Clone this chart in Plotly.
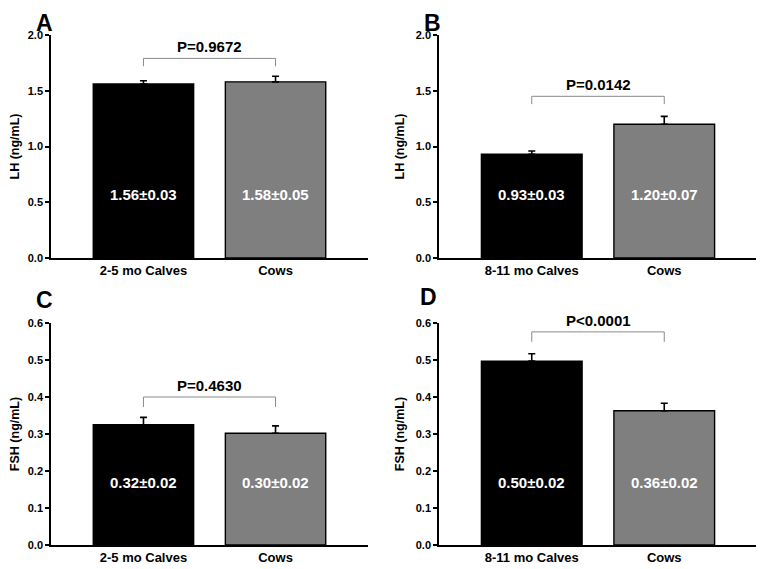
import plotly.graph_objects as go

# ---- data ----
panel_letters = ["A", "B", "C", "D"]
categories_A = ["2-5 mo Calves", "Cows"]
categories_B = ["8-11 mo Calves", "Cows"]
categories_C = ["2-5 mo Calves", "Cows"]
categories_D = ["8-11 mo Calves", "Cows"]
means_A = [1.56, 1.58]
sem_A = [0.03, 0.05]
means_B = [0.93, 1.20]
sem_B = [0.03, 0.07]
means_C = [0.325, 0.302]
sem_C = [0.02, 0.02]
means_D = [0.497, 0.363]
sem_D = [0.02, 0.02]
labels_A = ["1.56±0.03", "1.58±0.05"]
labels_B = ["0.93±0.03", "1.20±0.07"]
labels_C = ["0.32±0.02", "0.30±0.02"]
labels_D = ["0.50±0.02", "0.36±0.02"]
p_texts = ["P=0.9672", "P=0.0142", "P=0.4630", "P<0.0001"]
bracket_levels = [1.79, 1.45, 0.40, 0.576]
y_titles = ["LH (ng/mL)", "LH (ng/mL)", "FSH (ng/mL)", "FSH (ng/mL)"]
y_max = [2.0, 2.0, 0.6, 0.6]
y_dtick = [0.5, 0.5, 0.1, 0.1]

panels = [
    (categories_A, means_A, sem_A, labels_A),
    (categories_B, means_B, sem_B, labels_B),
    (categories_C, means_C, sem_C, labels_C),
    (categories_D, means_D, sem_D, labels_D),
]

# page body has an 8px margin; lay out in reference pixel coords then shift
OFF = 8
W, H = 764 - OFF, 569 - OFF


def fx(px):
    return (px - OFF) / W


def fy(py):
    return 1 - (py - OFF) / H


x_domains = [[fx(51), fx(368)], [fx(439), fx(757)], [fx(51), fx(368)], [fx(439), fx(757)]]
y_domains = [[fy(258), fy(35)], [fy(258), fy(35)], [fy(545), fy(323)], [fy(545), fy(323)]]
# (x centre, y, anchor)
letter_pos = [(44, 8, "top"), (432, 8, "top"), (44, 300, "middle"), (428, 297, "middle")]

FONT = "Liberation Sans, Arial, sans-serif"
bar_colors = ["#000000", "#7f7f7f"]

fig = go.Figure()
layout = dict(
    width=W, height=H,
    margin=dict(l=0, r=0, t=0, b=0),
    plot_bgcolor="white", paper_bgcolor="white",
    showlegend=False,
    font=dict(family=FONT, color="black"),
    annotations=[], shapes=[],
)

for i, (cats, means, sems, labels) in enumerate(panels):
    n = i + 1
    xa = "x" if n == 1 else f"x{n}"
    ya = "y" if n == 1 else f"y{n}"
    xs = list(range(len(cats)))
    fig.add_trace(go.Bar(
        x=xs, y=means, xaxis=xa, yaxis=ya, width=0.76,
        marker=dict(color=bar_colors, line=dict(color="black", width=1.4)),
        error_y=dict(type="data", symmetric=False, array=sems, arrayminus=[0] * len(sems),
                     color="black", thickness=1.6, width=3.5),
        hoverinfo="skip",
    ))
    xkey = "xaxis" if n == 1 else f"xaxis{n}"
    ykey = "yaxis" if n == 1 else f"yaxis{n}"
    layout[xkey] = dict(
        domain=x_domains[i], anchor=ya, range=[-0.7, 1.7],
        tickmode="array", tickvals=xs, ticktext=cats,
        tickfont=dict(size=13, weight="bold", family=FONT),
        showline=True, linecolor="black", linewidth=1.5,
        ticks="", showgrid=False, zeroline=False, automargin=False,
    )
    layout[ykey] = dict(
        domain=y_domains[i], anchor=xa, range=[0, y_max[i]],
        dtick=y_dtick[i], tick0=0, tickformat=".1f",
        tickfont=dict(size=11, weight="bold", family=FONT),
        ticks="outside", ticklen=4, tickwidth=1.5, tickcolor="black",
        showline=True, linecolor="black", linewidth=1.5,
        showgrid=False, zeroline=False, automargin=False,
        title=dict(text=y_titles[i], font=dict(size=12.5, weight="bold", family=FONT), standoff=8),
    )
    # value labels inside bars
    for xv, lab in zip(xs, labels):
        layout["annotations"].append(dict(
            x=xv, y=0.283 * y_max[i], xref=xa, yref=ya, text=lab, showarrow=False,
            font=dict(size=15, color="white", weight="bold", family=FONT),
        ))
    # bracket
    b = bracket_levels[i]
    drop = 0.035 * y_max[i] if i < 2 else 0.045 * y_max[i]
    layout["shapes"].append(dict(
        type="path", xref=xa, yref=ya,
        path=f"M {xs[0]},{b - drop} L {xs[0]},{b} L {xs[-1]},{b} L {xs[-1]},{b - drop}",
        line=dict(color="#8a8a8a", width=1),
    ))
    layout["annotations"].append(dict(
        x=(xs[0] + xs[-1]) / 2, y=b, xref=xa, yref=ya, text=p_texts[i], showarrow=False,
        yanchor="bottom", yshift=1,
        font=dict(size=15, weight="bold", family=FONT),
    ))
    # panel letter
    lx, ly, anc = letter_pos[i]
    layout["annotations"].append(dict(
        x=fx(lx), y=fy(ly), xref="paper", yref="paper", text=panel_letters[i],
        showarrow=False, xanchor="center", yanchor=anc,
        font=dict(size=23, weight="bold", family=FONT),
    ))

fig.update_layout(**layout)
fig.write_html("out.html")
